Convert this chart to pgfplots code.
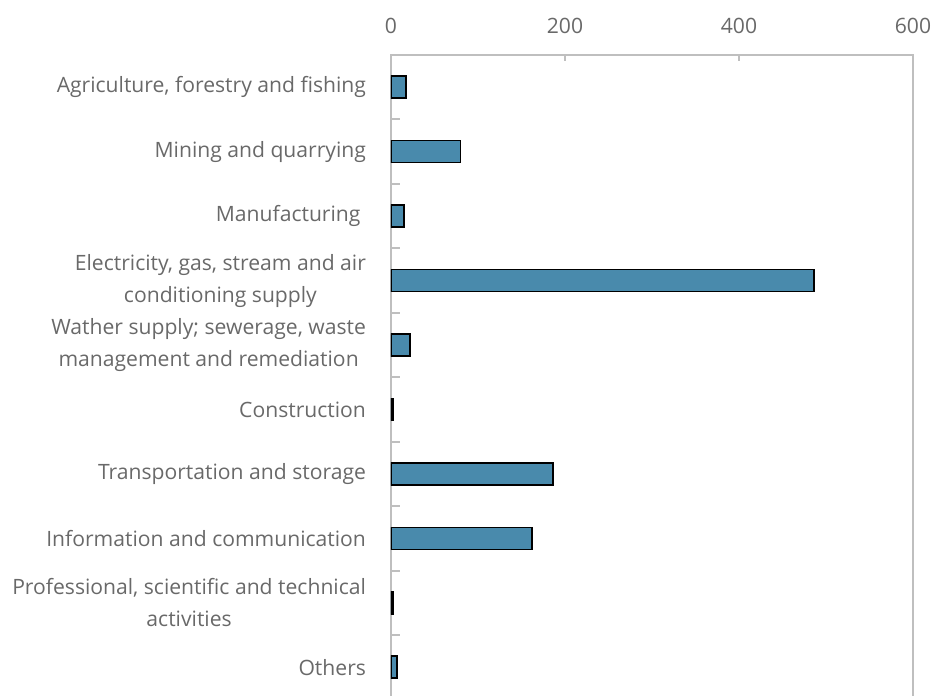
\documentclass[border=0pt]{standalone}
\usepackage{pgfplots}
\pgfplotsset{compat=1.18}
\usepackage{fontspec}
\setmainfont{Open Sans}
\definecolor{barblue}{RGB}{73,138,172}
\definecolor{txtgray}{RGB}{105,105,105}
\definecolor{axgray}{RGB}{191,191,191}

\begin{document}
\begin{tikzpicture}
\begin{axis}[
    xbar,
    y dir=reverse,
    scale only axis,
    width=261bp,
    height=322.2bp,
    xmin=0, xmax=600,
    ymin=-0.5, ymax=9.5,
    bar width=11bp,
    xtick={0,200,400,600},
    xtick pos=upper,
    xticklabel pos=upper,
    ytick={0,...,9},
    ytick pos=left,
    minor ytick={0.5,1.5,...,8.5},
    tick align=inside,
    major tick length=3bp,
    minor tick length=4.5bp,
    every major y tick/.append style={draw=none},
    every minor y tick/.append style={draw=axgray, line width=1bp},
    xtick style={draw=axgray, line width=1bp},
    axis line style={draw=axgray, line width=1bp},
    xticklabel style={yshift=7bp},
    yticklabel style={align=center, xshift=-9bp},
    tick label style={font=\fontsize{10.6}{16bp}\selectfont, text=txtgray},
    /pgf/number format/assume math mode=true,
    yticklabels={
        {Agriculture, forestry and fishing},
        {Mining and quarrying},
        {Manufacturing\ },
        {Electricity, gas, stream and air\\conditioning supply},
        {Wather supply; sewerage, waste\\management and remediation\ },
        {Construction},
        {Transportation and storage},
        {Information and communication},
        {Professional, scientific and technical\\activities},
        {Others}
    },
]
\addplot[fill=barblue, draw=black, line width=0.8pt] coordinates {
    (17,0)
    (80,1)
    (15,2)
    (486,3)
    (22,4)
    (2,5)
    (186,6)
    (162,7)
    (2,8)
    (7,9)
};
\end{axis}
\pgfresetboundingbox
\path ([xshift=-195.5bp,yshift=1.7bp]current axis.south west)
    rectangle ([xshift=10.5bp,yshift=27.5bp]current axis.north east);
\end{tikzpicture}
\end{document}
